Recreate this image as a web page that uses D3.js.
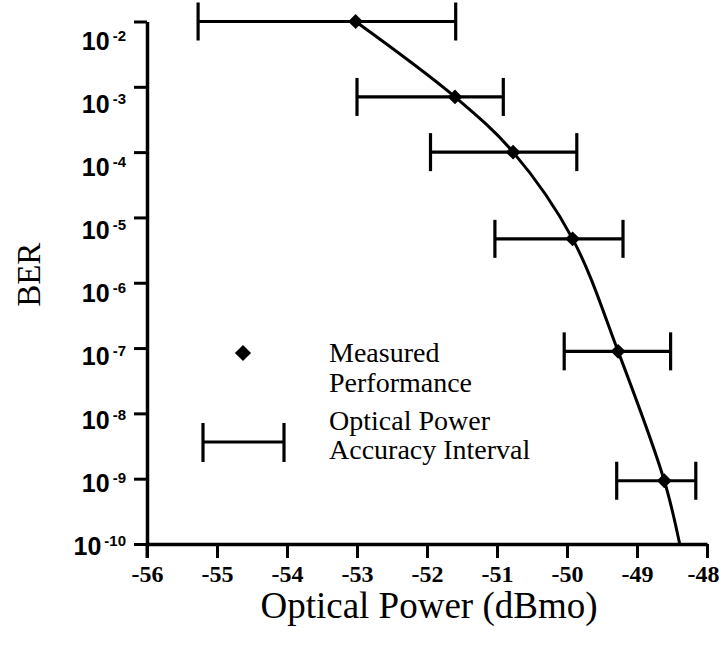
<!DOCTYPE html>
<html>
<head>
<meta charset="utf-8">
<script src="https://cdn.jsdelivr.net/npm/d3@7"></script>
<style>
  html, body { margin: 0; padding: 0; background: #fff; }
  svg { display: block; }
</style>
</head>
<body>
<svg id="chart" width="723" height="649"></svg>
<script>
// measured points (optical power in dBmo, bit error rate)
const power = [-53.02, -51.6, -50.77, -49.92, -49.27, -48.61]
const ber = [1e-2, 7.0e-4, 1.0e-4, 4.7e-6, 8.9e-8, 9.3e-10]
// optical power accuracy interval for each point
const powerLow = [-55.27, -53.0, -51.95, -51.03, -50.04, -49.29]
const powerHigh = [-51.59, -50.91, -49.86, -49.2, -48.52, -48.16]
// fitted curve runs through the points and on down to the axis
const curvePower = [...power, -48.39]
const curveBer = [...ber, 1e-10]

const xTicks = [-56, -55, -54, -53, -52, -51, -50, -49, -48]
const yExponents = [-2, -3, -4, -5, -6, -7, -8, -9, -10]

const width = 723, height = 649
const marginL = 147, marginR = 16, marginT = 21.5, marginB = 105

const svg = d3.select("#chart")

const xScale = d3.scaleLinear().domain([-56, -48]).range([marginL, width - marginR])
const yScale = d3.scaleLog().domain([1e-10, 1e-2]).range([height - marginB, marginT])
// the scanned labels drift a little below their ticks near the top
const yLabelScale = d3.scaleLinear().domain([-2, -10])
    .range([yScale(1e-2) + 20, yScale(1e-10) + 3])

const ink = "#000"
const serif = "'Liberation Serif', 'Times New Roman', serif"
const sans = "'Liberation Sans', Arial, sans-serif"

// x axis: ticks hang below the line
const xAxis = d3.axisBottom(xScale).tickValues(xTicks).tickSize(14).tickSizeOuter(0).tickPadding(5)
    .tickFormat(d => String(d))
const xAxisSVG = svg.append("g")
    .attr("transform", `translate(0, ${yScale(1e-10)})`)
    .call(xAxis)
xAxisSVG.select(".domain").attr("stroke", ink).attr("stroke-width", 3.5)
xAxisSVG.selectAll(".tick line").attr("stroke", ink).attr("stroke-width", 3)
xAxisSVG.selectAll(".tick text")
    .style("font-family", serif)
    .style("font-size", "24px")
    .style("font-weight", "bold")
    .attr("fill", ink)
    .attr("dy", "0.8em")
    .attr("dx", d => d === -48 ? -4 : 0)

// y axis
const yAxis = d3.axisLeft(yScale).tickValues(yExponents.map(e => Math.pow(10, e)))
    .tickSize(13).tickSizeOuter(0).tickFormat("")
const yAxisSVG = svg.append("g")
    .attr("transform", `translate(${marginL}, 0)`)
    .call(yAxis)
yAxisSVG.select(".domain").attr("stroke", ink).attr("stroke-width", 3.5)
yAxisSVG.selectAll(".tick line").attr("stroke", ink).attr("stroke-width", 3)
// y axis line runs on a bit below the x axis, as in the figure
yAxisSVG.append("line")
    .attr("x1", 0).attr("x2", 0)
    .attr("y1", yScale(1e-10)).attr("y2", yScale(1e-10) + 14)
    .attr("stroke", ink).attr("stroke-width", 3)

// y tick labels: 10 with a superscript exponent
const yLabels = svg.append("g")
    .style("font-family", sans)
    .style("font-weight", "bold")
    .attr("fill", ink)
yExponents.forEach(e => {
    const t = yLabels.append("text")
        .attr("x", marginL - 21)
        .attr("y", yLabelScale(e) + 8)
        .attr("text-anchor", "end")
    t.append("tspan").style("font-size", "25px").text("10")
    t.append("tspan").style("font-size", "15px").attr("dx", 3).attr("dy", -9)
        .text("-" + Math.abs(e))
})

// axis titles
svg.append("text")
    .text("Optical Power (dBmo)")
    .attr("x", (xScale(-56) + xScale(-48)) / 2 + 2)
    .attr("y", 618)
    .attr("text-anchor", "middle")
    .style("font-family", serif)
    .style("font-size", "37px")
    .attr("fill", ink)
svg.append("text")
    .text("BER")
    .attr("transform", `translate(40, ${(yScale(1e-2) + yScale(1e-10)) / 2 - 8}) rotate(-90)`)
    .attr("text-anchor", "middle")
    .style("font-family", serif)
    .style("font-size", "33px")
    .attr("fill", ink)

// fitted curve
const curve = d3.line()
    .x((d, i) => xScale(curvePower[i]))
    .y((d, i) => yScale(curveBer[i]))
    .curve(d3.curveCatmullRom.alpha(0.5))
svg.append("path")
    .attr("d", curve(curvePower))
    .attr("fill", "none")
    .attr("stroke", ink)
    .attr("stroke-width", 3)

// accuracy intervals
const capHalf = 19
const bars = svg.append("g").attr("stroke", ink).attr("stroke-width", 3.2).attr("fill", "none")
power.forEach((p, i) => {
    const y = yScale(ber[i])
    bars.append("line").attr("x1", xScale(powerLow[i])).attr("x2", xScale(powerHigh[i]))
        .attr("y1", y).attr("y2", y)
    bars.append("line").attr("x1", xScale(powerLow[i])).attr("x2", xScale(powerLow[i]))
        .attr("y1", y - capHalf).attr("y2", y + capHalf)
    bars.append("line").attr("x1", xScale(powerHigh[i])).attr("x2", xScale(powerHigh[i]))
        .attr("y1", y - capHalf).attr("y2", y + capHalf)
})

// measured points, diamonds
const diamond = d3.symbol().type(d3.symbolSquare).size(110)
svg.append("g").selectAll("path")
    .data(power)
    .join("path")
    .attr("d", diamond)
    .attr("transform", (d, i) => `translate(${xScale(d)}, ${yScale(ber[i])}) rotate(45)`)
    .attr("fill", ink)

// legend
const legend = svg.append("g")
legend.append("path")
    .attr("d", d3.symbol().type(d3.symbolSquare).size(130))
    .attr("transform", "translate(243, 353) rotate(45)")
    .attr("fill", ink)
const lg = legend.append("g").attr("stroke", ink).attr("stroke-width", 3.2)
lg.append("line").attr("x1", 203).attr("x2", 284).attr("y1", 442).attr("y2", 442)
lg.append("line").attr("x1", 203).attr("x2", 203).attr("y1", 423).attr("y2", 462)
lg.append("line").attr("x1", 284).attr("x2", 284).attr("y1", 423).attr("y2", 462)

const legendLines = [
    ["Measured", 362], ["Performance", 392],
    ["Optical Power", 430], ["Accuracy Interval", 459]
]
legend.selectAll("text.lab")
    .data(legendLines)
    .join("text")
    .attr("class", "lab")
    .attr("x", 329)
    .attr("y", d => d[1])
    .style("font-family", serif)
    .style("font-size", "28px")
    .attr("fill", ink)
    .text(d => d[0])
</script>
</body>
</html>
